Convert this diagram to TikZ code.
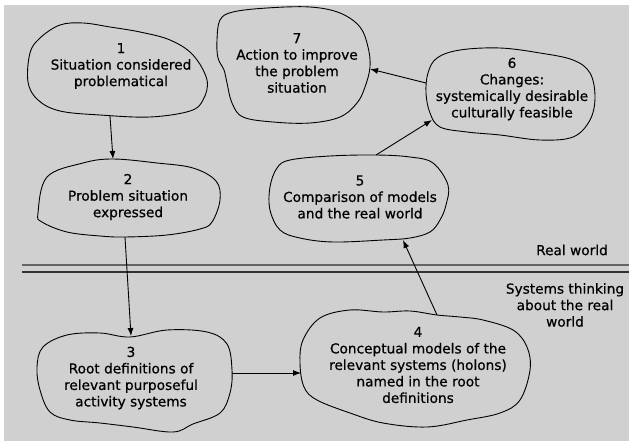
\documentclass[tikz,border=0pt]{standalone}
\usepackage{fontspec}
\setmainfont{DejaVu Sans}[FakeBold=0.6]
\usetikzlibrary{arrows.meta}
\definecolor{bggray}{RGB}{208,208,208}
\definecolor{linetop}{RGB}{100,100,100}
\definecolor{linebot}{RGB}{50,50,50}
\tikzset{
  blob/.style={draw=black, line width=0.9pt},
  lbl/.style={align=center, inner sep=0pt, font=\fontsize{13.7}{16.5}\selectfont},
  arr/.style={draw=black, line width=0.9pt, -{Latex[length=8pt,width=6pt]}},
}
\begin{document}
\begin{tikzpicture}[x=1pt,y=-1pt]
\useasboundingbox (0,0) rectangle (629,441);
\fill[white] (0,0) rectangle (629,441);
\fill[bggray] (4,5) rectangle (629,441);

% separator lines
\draw[linetop, line width=2pt] (22,265) -- (629,265);
\draw[linebot, line width=1.3pt] (22,272) -- (629,272);

% blob 1
\draw[blob] plot[smooth cycle, tension=0.6] coordinates {
 (30,53) (40,38) (60,25) (83,23) (110,27) (140,32) (170,40) (193,55) (207,80)
 (203,100) (190,111) (150,117) (100,115) (60,111) (38,100) (28,82)};
% blob 2
\draw[blob] plot[smooth cycle, tension=0.6] coordinates {
 (38,213) (47,177) (83,163) (113,159) (157,163) (193,168) (216,181) (220,200)
 (212,222) (200,229) (167,235) (125,237) (100,236) (67,232) (42,222)};
% blob 3
\draw[blob] plot[smooth cycle, tension=0.6] coordinates {
 (43,347) (67,335) (100,333) (130,337) (167,330) (207,332) (227,344) (232,370)
 (230,393) (220,413) (193,424) (173,432) (133,427) (100,423) (70,420) (50,412)
 (40,390) (37,367)};
% blob 4
\draw[blob] plot[smooth cycle, tension=0.6] coordinates {
 (437,315) (410,311) (383,312) (350,310) (320,318) (303,340) (300,363) (304,387)
 (317,400) (350,413) (383,423) (427,427) (467,420) (500,413) (520,400) (530,370)
 (527,347) (513,330) (483,320) (460,317)};
% blob 5
\draw[blob] plot[smooth cycle, tension=0.6] coordinates {
 (290,160) (330,156) (376,155) (410,157) (433,163) (448,185) (446,205) (440,220)
 (430,232) (410,238) (383,240) (333,242) (300,238) (280,230) (270,210) (270,187)
 (277,168)};
% blob 6
\draw[blob] plot[smooth cycle, tension=0.6] coordinates {
 (437,58) (460,50) (500,48) (540,53) (573,60) (590,73) (595,97) (590,120)
 (573,137) (540,140) (500,135) (467,132) (440,127) (430,113) (426,93) (428,73)};
% blob 7
\draw[blob] plot[smooth cycle, tension=0.6] coordinates {
 (220,20) (233,12) (267,8) (310,7) (340,13) (360,27) (368,47) (370,67) (365,87)
 (357,103) (340,117) (310,123) (273,122) (243,117) (232,103) (227,83) (224,70)
 (218,58) (217,40)};

% labels
\node[lbl] (n1) at (121,66) {1\\Situation considered\\problematical};
\node[lbl] (n2) at (128,197) {2\\Problem situation\\expressed};
\node[lbl] (n3) at (131,378) {3\\Root definitions of\\relevant purposeful\\activity systems};
\node[lbl] (n4) at (418,365) {4\\Conceptual models of the\\relevant systems (holons)\\named in the root\\definitions};
\node[lbl] (n5) at (360,197) {5\\Comparison of models\\and the real world};
\node[lbl] (n6) at (512,89) {6\\Changes:\\systemically desirable\\culturally feasible};
\node[lbl] (n7) at (297,63) {7\\Action to improve\\the problem\\situation};
\node[lbl, anchor=east] (rw) at (608,250) {Real world};
\node[lbl] (st) at (565,305) {Systems thinking\\about the real\\world};

% connector end points on blob outlines
\coordinate (b1s) at (110,116);
\coordinate (b2n) at (113,159);
\coordinate (b2s) at (125,237);
\coordinate (b3n) at (131,336);
\coordinate (b3e) at (232,373);
\coordinate (b4w) at (301,373);
\coordinate (b4n) at (437,315);
\coordinate (b5s) at (403,240);
\coordinate (b5n) at (376,155);
\coordinate (b6sw) at (432,120);
\coordinate (b6w) at (426,83);
\coordinate (b7e) at (370,69);

\draw[arr] (b1s) -- (b2n);
\draw[arr] (b2s) -- (b3n);
\draw[arr] (b3e) -- (b4w);
\draw[arr] (b4n) -- (b5s);
\draw[arr] (b5n) -- (b6sw);
\draw[arr] (b6w) -- (b7e);
\end{tikzpicture}
\end{document}
